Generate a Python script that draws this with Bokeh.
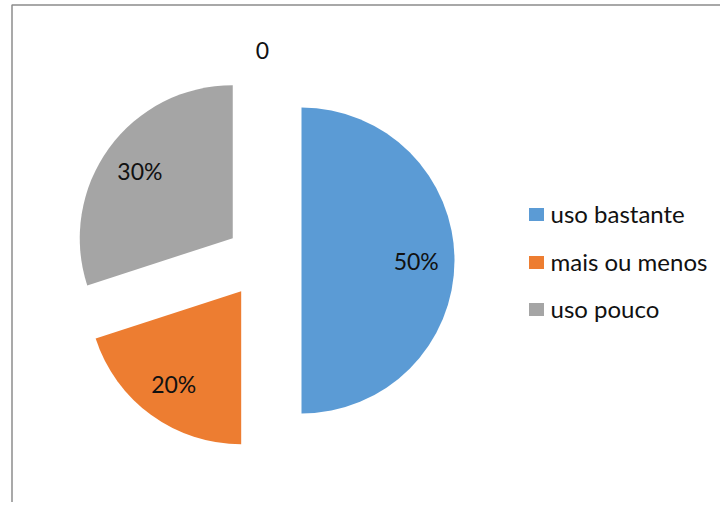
import math
from bokeh.plotting import figure
from bokeh.models import Range1d, ColumnDataSource
from bokeh.core.properties import value
from bokeh.embed import file_html
from bokeh.resources import INLINE

# ---- data ----
categories = ["uso bastante", "mais ou menos", "uso pouco"]
values = [50, 20, 30]
colors = ["#5B9BD5", "#ED7D31", "#A5A5A5"]
extra_label_value = 0   # zero-valued point shown only as a data label "0"

# ---- layout constants (screen px; data y = H - screen y) ----
W, H = 720, 502
def Y(sy):
    return H - sy

CX, CY = 263, Y(260)
R = 153
EXPLODE = 38
FONT = value("Lato")
TXT = "#111111"
FS_LBL = "23px"
FS_LEG = "24px"

p = figure(width=W, height=H, x_range=Range1d(0, W), y_range=Range1d(0, H),
           min_border=0, output_backend="svg", toolbar_location=None)
p.axis.visible = False
p.grid.visible = False
p.outline_line_color = None
p.background_fill_color = "white"

# frame border of the chart area
p.line([11.5, 11.5, W], [0, Y(4.5), Y(4.5)], line_color="#8c8c8c", line_width=1.5)

total = sum(values) + extra_label_value
cum = 0.0
xs, ys, starts, ends, lx, ly, labels = [], [], [], [], [], [], []
for v in values:
    f0 = cum / total
    f1 = (cum + v) / total
    mid = math.pi / 2 - 2 * math.pi * (f0 + f1) / 2
    ox = CX + EXPLODE * math.cos(mid)
    oy = CY + EXPLODE * math.sin(mid)
    xs.append(ox); ys.append(oy)
    starts.append(math.pi / 2 - 2 * math.pi * f0)
    ends.append(math.pi / 2 - 2 * math.pi * f1)
    lx.append(ox + 0.75 * R * math.cos(mid))
    ly.append(oy + 0.75 * R * math.sin(mid))
    labels.append(f"{round(100 * v / total)}%")
    cum += v

src = ColumnDataSource(dict(x=xs, y=ys, s=starts, e=ends, c=colors))
p.wedge(x="x", y="y", radius=R, start_angle="s", end_angle="e", direction="clock",
        fill_color="c", line_color=None, source=src)

p.text(lx, ly, text=labels, text_align="center", text_baseline="middle",
       text_font=FONT, text_font_size=FS_LBL, text_color=TXT)

# zero-valued point label at the top
mid0 = math.pi / 2 - 2 * math.pi * 1.0
dist0 = R + EXPLODE + 19
p.text([CX - 1 + dist0 * math.cos(mid0)], [CY + dist0 * math.sin(mid0)],
       text=[str(extra_label_value)], text_align="center", text_baseline="middle",
       text_font=FONT, text_font_size=FS_LBL, text_color=TXT)

# legend
leg_x = 536
leg_y = [Y(214), Y(262), Y(309)]
p.rect([leg_x] * 3, leg_y, width=15, height=13, fill_color=colors, line_color=None)
p.text([550] * 3, [y + 1 for y in leg_y], text=categories, text_align="left",
       text_baseline="middle", text_font=FONT, text_font_size=FS_LEG, text_color=TXT)

open("out.html", "w").write(file_html(p, INLINE))
